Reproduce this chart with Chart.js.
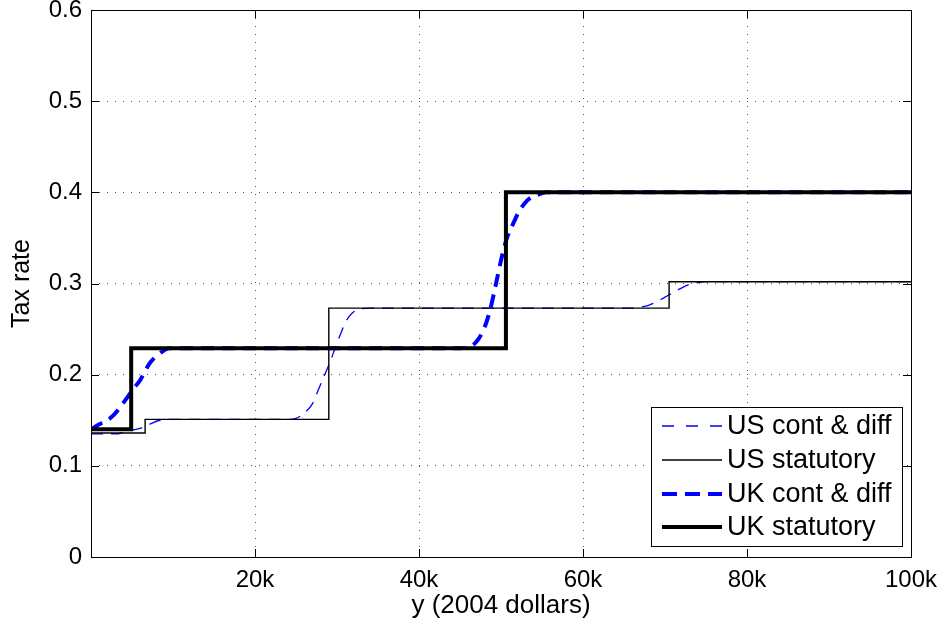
<!DOCTYPE html>
<html>
<head>
<meta charset="utf-8">
<script src="https://cdn.jsdelivr.net/npm/chart.js@4.4.1/dist/chart.umd.min.js"></script>
<style>
html,body{margin:0;padding:0;background:#fff;}
canvas{display:block;}
</style>
</head>
<body>
<canvas id="c" width="949" height="630"></canvas>
<script>
// ---- data (income in thousands of 2004 dollars, tax rate) ----
const seriesLabels = ["US cont & diff", "US statutory", "UK cont & diff", "UK statutory"];

const usContX = [0, 3, 4.1, 5, 6, 7, 8.4, 10, 24, 25, 26, 27, 27.7, 28.5, 29.2, 29.8, 30.5, 31, 31.8, 32.8, 34, 66, 67, 68, 69, 70, 70.5, 71, 72, 73, 74, 75, 100];
const usContY = [0.135, 0.135, 0.137, 0.139, 0.141, 0.145, 0.150, 0.151, 0.151, 0.152, 0.158, 0.168, 0.183, 0.200, 0.215, 0.230, 0.246, 0.257, 0.267, 0.272, 0.273, 0.273, 0.274, 0.276, 0.280, 0.285, 0.2875, 0.290, 0.295, 0.299, 0.301, 0.302, 0.302];

const usStatX = [0, 6.6, 29.0, 70.5, 100];
const usStatY = [0.136, 0.151, 0.273, 0.302, 0.302];

const ukContX = [0, 0.9, 2, 2.9, 3.7, 4.5, 5.3, 6, 6.6, 7.2, 8.2, 9.6, 45, 46, 47, 48, 48.7, 49.3, 50.2, 50.8, 51.5, 52.2, 52.9, 53.6, 54.4, 55.5, 100];
const ukContY = [0.140, 0.145, 0.150, 0.157, 0.166, 0.176, 0.186, 0.194, 0.204, 0.213, 0.222, 0.229, 0.229, 0.230, 0.236, 0.252, 0.272, 0.296, 0.333, 0.352, 0.366, 0.379, 0.388, 0.394, 0.397, 0.400, 0.400];

const ukStatX = [0, 4.9, 50.6, 100];
const ukStatY = [0.140, 0.229, 0.400, 0.400];

const xTicks = [0, 20, 40, 60, 80, 100];
const yTicks = [0, 0.1, 0.2, 0.3, 0.4, 0.5, 0.6];

const pts = (xs, ys) => xs.map((x, i) => ({x: x, y: ys[i]}));

const FONT = "'Liberation Sans', Arial, sans-serif";

const frame = {
  id: 'frame',
  afterDatasetsDraw(chart) {
    const {ctx, chartArea: a, scales} = chart;
    ctx.save();
    ctx.strokeStyle = '#000';
    ctx.lineWidth = 1;
    ctx.beginPath();
    yTicks.forEach(v => {
      const y = Math.round(scales.y.getPixelForValue(v)) + 0.5;
      ctx.moveTo(a.left, y); ctx.lineTo(a.left + 8, y);
      ctx.moveTo(a.right, y); ctx.lineTo(a.right - 8, y);
    });
    xTicks.forEach(v => {
      const x = Math.round(scales.x.getPixelForValue(v)) + 0.5;
      ctx.moveTo(x, a.bottom); ctx.lineTo(x, a.bottom - 8);
      ctx.moveTo(x, a.top); ctx.lineTo(x, a.top + 8);
    });
    ctx.stroke();
    ctx.strokeRect(Math.round(a.left) + 0.5, Math.round(a.top) + 0.5, Math.round(a.right - a.left), Math.round(a.bottom - a.top));
    ctx.restore();
  },
  afterDraw(chart) {
    const {ctx} = chart;
    const bx = 651, by = 407, bw = 251, bh = 139;
    ctx.save();
    ctx.fillStyle = '#fff';
    ctx.fillRect(bx, by, bw, bh);
    ctx.strokeStyle = '#000';
    ctx.lineWidth = 1;
    ctx.strokeRect(bx + 0.5, by + 0.5, bw, bh);
    const rows = [426, 460, 494, 527];
    chart.data.datasets.forEach((ds, i) => {
      const y = rows[i];
      ctx.beginPath();
      ctx.strokeStyle = ds.borderColor;
      ctx.lineWidth = ds.borderWidth;
      ctx.setLineDash(ds.legendDash || []);
      ctx.moveTo(662, y); ctx.lineTo(722, y);
      ctx.stroke();
      ctx.setLineDash([]);
      ctx.fillStyle = '#000';
      ctx.font = '27px ' + FONT;
      ctx.textBaseline = 'middle';
      ctx.textAlign = 'left';
      ctx.fillText(ds.label, 727, y + 1);
    });
    ctx.restore();
  }
};

new Chart(document.getElementById('c'), {
  type: 'line',
  data: {
    datasets: [
      {label: seriesLabels[0], data: pts(usContX, usContY), borderColor: '#0000ff', borderWidth: 1.3, borderDash: [12, 8], legendDash: [12, 12], pointRadius: 0, cubicInterpolationMode: 'monotone', fill: false, order: 3},
      {label: seriesLabels[1], data: pts(usStatX, usStatY), borderColor: '#000', borderWidth: 1.4, stepped: 'before', pointRadius: 0, fill: false, order: 2},
      {label: seriesLabels[2], data: pts(ukContX, ukContY), borderColor: '#0000ff', borderWidth: 4, borderDash: [13, 8], legendDash: [15, 8], pointRadius: 0, cubicInterpolationMode: 'monotone', fill: false, order: 1},
      {label: seriesLabels[3], data: pts(ukStatX, ukStatY), borderColor: '#000', borderWidth: 4, stepped: 'before', pointRadius: 0, fill: false, order: 0}
    ]
  },
  options: {
    responsive: false,
    animation: false,
    layout: {padding: {left: 0, right: 38, top: 10, bottom: 0}},
    plugins: {legend: {display: false}, tooltip: {enabled: false}},
    scales: {
      x: {
        type: 'linear', min: 0, max: 100,
        afterBuildTicks: s => { s.ticks = xTicks.map(v => ({value: v})); },
        afterFit: s => { s.height = 73; s.paddingLeft = 0; s.paddingRight = 0; },
        grid: {color: '#555', lineWidth: 1, drawTicks: false},
        border: {display: false, dash: [1, 7]},
        ticks: {padding: 9, maxRotation: 0, autoSkip: false, color: '#000', font: {family: FONT, size: 24},
          callback: v => v === 0 ? '' : v + 'k'},
        title: {display: true, text: 'y (2004 dollars)', color: '#000', font: {family: FONT, size: 26}, padding: {top: 0, bottom: 9}}
      },
      y: {
        min: 0, max: 0.6,
        afterBuildTicks: s => { s.ticks = yTicks.map(v => ({value: v})); },
        afterFit: s => { s.width = 91; s.paddingTop = 0; s.paddingBottom = 0; },
        grid: {color: '#555', lineWidth: 1, drawTicks: false},
        border: {display: false, dash: [1, 7]},
        ticks: {padding: 9, autoSkip: false, color: '#000', font: {family: FONT, size: 24},
          callback: v => String(Math.round(v * 10) / 10)},
        title: {display: true, text: 'Tax rate', color: '#000', font: {family: FONT, size: 25}, padding: {top: 7, bottom: 0}}
      }
    }
  },
  plugins: [frame]
});
</script>
</body>
</html>
